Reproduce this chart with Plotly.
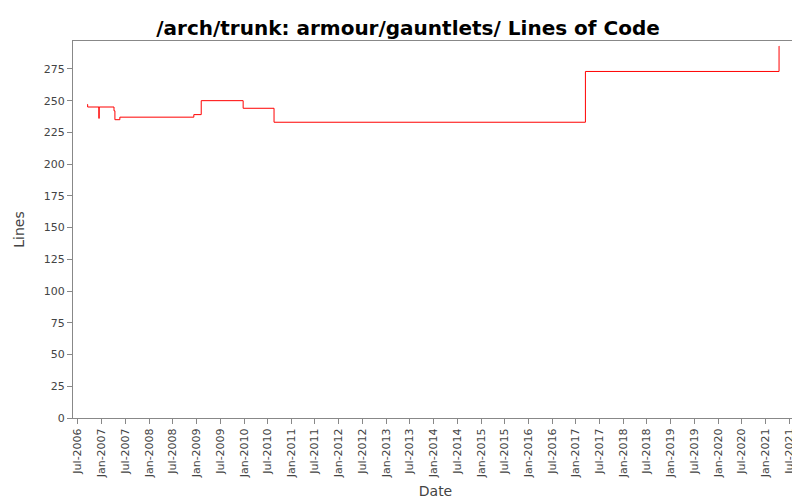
import plotly.graph_objects as go

dates = ["2006-09-10", "2006-09-14", "2006-12-10", "2006-12-11", "2006-12-12",
         "2007-04-05", "2007-04-12", "2007-04-20", "2007-05-20", "2008-12-10",
         "2009-02-05", "2009-12-25", "2010-08-20", "2017-03-15", "2021-04-15",
         "2021-04-16"]
lines = [247, 245, 236, 245, 245, 242, 235, 235, 237, 239,
         250, 244, 233, 273, 293, 293]

fig = go.Figure(go.Scatter(x=dates, y=lines, mode="lines", line_shape="hv",
                           line=dict(color="red", width=1)))
fig.update_layout(
    width=800, height=500, paper_bgcolor="white", plot_bgcolor="white",
    font=dict(family="DejaVu Sans", size=11, color="#444"),
    title=dict(text="<b>/arch/trunk: armour/gauntlets/ Lines of Code</b>",
               x=0.5, xanchor="center", y=0.975, font=dict(size=20, color="black")),
    margin=dict(l=65, r=10, t=33, b=90), showlegend=False,
)
fig.update_xaxes(title_text="Date", range=["2006-05-24", "2021-09-08"],
                 tickformat="%b-%Y", dtick="M6", tick0="2006-07-01", tickangle=-90,
                 showgrid=False, showline=True, mirror=True, linecolor="#888",
                 ticks="outside", tickcolor="#888", automargin=False,
                 title_font=dict(size=14), title_standoff=8)
fig.update_yaxes(title_text="Lines", range=[0, 297], dtick=25,
                 showgrid=False, showline=True, mirror=True, linecolor="#888",
                 ticks="outside", tickcolor="#888", automargin=False,
                 title_font=dict(size=14))
fig.write_html("out.html")
